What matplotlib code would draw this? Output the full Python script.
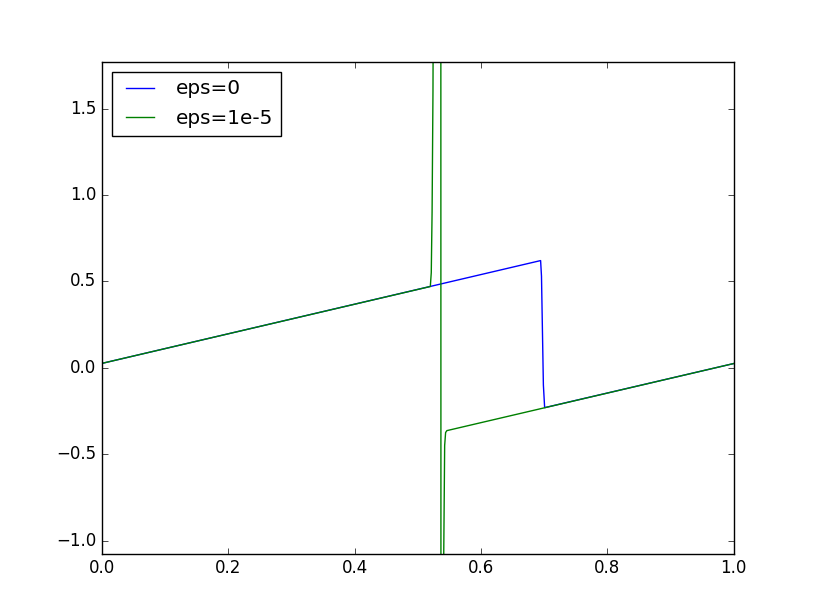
import matplotlib
matplotlib.use("Agg")
import matplotlib.pyplot as plt

plt.style.use('classic')

# eps=0 series (vertices of the piecewise-linear curve)
x_eps0 = [0.0, 0.6946, 0.6960, 0.6990, 0.7010, 1.0]
y_eps0 = [0.025, 0.620, 0.530, -0.100, -0.231, 0.024]

# eps=1e-5 series
x_eps1 = [0.0, 0.5200, 0.5215, 0.5228, 0.5242, 0.5255, 0.5365, 0.5370,
          0.5400, 0.5412, 0.5427, 0.5442, 0.5462, 1.0]
y_eps1 = [0.025, 0.470, 0.550, 0.900, 1.600, 3.000, 6.000, -6.000,
          -6.000, -1.100, -0.450, -0.375, -0.364, 0.024]

labels = ['eps=0', 'eps=1e-5']

fig = plt.figure(figsize=(8.15, 6.15), dpi=100)
ax = fig.add_subplot(111)
ax.plot(x_eps0, y_eps0, color='b', lw=1.0, label=labels[0])
ax.plot(x_eps1, y_eps1, color='g', lw=1.0, label=labels[1])
ax.set_xlim(0.0, 1.0)
ax.set_ylim(-1.075, 1.772)
ax.set_xticks([0.0, 0.2, 0.4, 0.6, 0.8, 1.0])
ax.set_yticks([-1.0, -0.5, 0.0, 0.5, 1.0, 1.5])
ax.legend(loc='upper left')
fig.savefig('out.png', dpi=100, facecolor='white')
